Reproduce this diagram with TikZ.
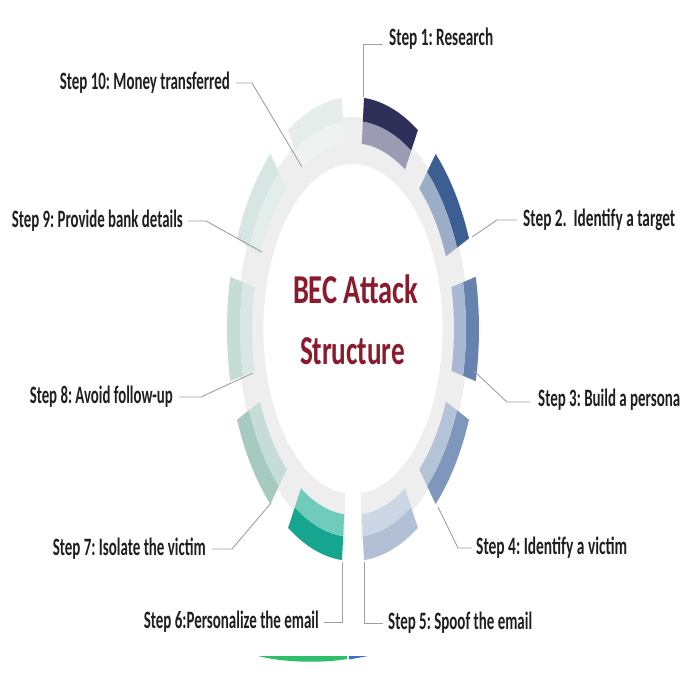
\documentclass[tikz,border=0pt]{standalone}
\usepackage{fontspec}
\setmainfont{Carlito}
\usetikzlibrary{calc}
\definecolor{seg1d}{HTML}{2F3059}\definecolor{seg1l}{HTML}{9B9BB3}
\definecolor{seg2d}{HTML}{3B5F92}\definecolor{seg2l}{HTML}{9CADC8}
\definecolor{seg3d}{HTML}{6682AF}\definecolor{seg3l}{HTML}{A9B9D3}
\definecolor{seg4d}{HTML}{8097BD}\definecolor{seg4l}{HTML}{B5C3D8}
\definecolor{seg5d}{HTML}{B2C0D5}\definecolor{seg5l}{HTML}{CDD6E4}
\definecolor{seg6d}{HTML}{16A58E}\definecolor{seg6l}{HTML}{70CBBD}
\definecolor{seg7d}{HTML}{A6CABF}\definecolor{seg7l}{HTML}{C5DDD6}
\definecolor{seg8d}{HTML}{C6DCD6}\definecolor{seg8l}{HTML}{D8E7E3}
\definecolor{seg9d}{HTML}{D6E6E2}\definecolor{seg9l}{HTML}{E3EDEA}
\definecolor{seg10d}{HTML}{E6EEEC}\definecolor{seg10l}{HTML}{EEF2F1}
\definecolor{track}{HTML}{EEEEEE}
\definecolor{titlered}{HTML}{8B1A2C}
\definecolor{labtext}{HTML}{1F1F1F}
\definecolor{conncol}{HTML}{A0A0A0}
\definecolor{artgreen}{HTML}{2FBF6A}
\definecolor{artblue}{HTML}{3A70C0}
\newcommand{\steplab}[2]{\resizebox{#1pt}{\height}{\fontsize{25}{28}\selectfont\bfseries #2}}
\tikzset{
  lab/.style={inner sep=0pt, text=labtext},
  conn/.style={draw=conncol, line width=0.9pt},
  titletext/.style={inner sep=0pt, text=titlered, anchor=base}
}
\begin{document}
\begin{tikzpicture}[x=1pt,y=-1pt]
\useasboundingbox (0,0) rectangle (696,697);
\fill[white] (0,0) rectangle (696,697);
% ring
\begin{scope}[shift={(353,329)}, xscale=0.543]
  \fill[track, even odd rule] (0,0) circle (212pt) (0,0) circle (165pt);
  \foreach \c/\d/\l in {72/seg1d/seg1l, 36/seg2d/seg2l, 0/seg3d/seg3l, -36/seg4d/seg4l, -72/seg5d/seg5l, -108/seg6d/seg6l, -144/seg7d/seg7l, 180/seg8d/seg8l, 144/seg9d/seg9l, 108/seg10d/seg10l}{
    \pgfmathsetmacro\sa{\c-13}
    \pgfmathsetmacro\sb{\c+13}
    \fill[\d] (\sa:232pt) arc[start angle=\sa, end angle=\sb, radius=232pt] -- (\sb:208pt) arc[start angle=\sb, end angle=\sa, radius=208pt] -- cycle;
    \fill[\l] (\sa:208pt) arc[start angle=\sa, end angle=\sb, radius=208pt] -- (\sb:186pt) arc[start angle=\sb, end angle=\sa, radius=186pt] -- cycle;
  }
\end{scope}
\fill[white] (345,488) rectangle (361,566);
% title
\node[titletext] (t1) at (355.5,303) {\resizebox{125pt}{\height}{\fontsize{41}{45}\selectfont\bfseries BEC Attack}};
\node[titletext] (t2) at (352.5,364) {\resizebox{105pt}{\height}{\fontsize{41}{45}\selectfont\bfseries Structure}};
% labels
\node[lab, anchor=west] (s1) at (389,39) {\steplab{104}{Step 1:\ Research}};
\node[lab, anchor=west] (s2) at (523,220) {\steplab{152}{Step 2.\ \ Identify a target}};
\node[lab, anchor=west] (s3) at (538,400) {\steplab{142}{Step 3:\ Build a persona}};
\node[lab, anchor=west] (s4) at (476,548) {\steplab{151}{Step 4:\ Identify a victim}};
\node[lab, anchor=west] (s5) at (388,623) {\steplab{144}{Step 5:\ Spoof the email}};
\node[lab, anchor=east] (s6) at (319,622) {\steplab{175}{Step 6:Personalize the email}};
\node[lab, anchor=east] (s7) at (206,549) {\steplab{153}{Step 7:\ Isolate the victim}};
\node[lab, anchor=east] (s8) at (173,397) {\steplab{143}{Step 8:\ Avoid follow-up}};
\node[lab, anchor=east] (s9) at (183,221) {\steplab{171}{Step 9:\ Provide bank details}};
\node[lab, anchor=east] (s10) at (230,83) {\steplab{170}{Step 10:\ Money transferred}};
% ring-side ends of connectors
\coordinate (e1) at (363,97);
\coordinate (e2) at (472,237);
\coordinate (e3) at (474,371);
\coordinate (e4) at (438,507);
\coordinate (e5) at (364,562);
\coordinate (e6) at (342,562);
\coordinate (e7) at (271,503);
\coordinate (e8) at (253,373);
\coordinate (e9) at (262,252);
\coordinate (e10) at (302,167);
% connectors
\draw[conn] ([xshift=-6pt,yshift=-5pt]s1.west) -| (e1);
\draw[conn] ([xshift=-6pt]s2.west) -- ++(-20,0) -- (e2);
\draw[conn] ([xshift=-8pt,yshift=-2pt]s3.west) -- ++(-23,0) -- (e3);
\draw[conn] ([xshift=-4pt]s4.west) -- ++(-14,0) -- (e4);
\draw[conn] ([xshift=-5pt]s5.west) -| (e5);
\draw[conn] ([xshift=5pt]s6.east) -| (e6);
\draw[conn] ([xshift=6pt]s7.east) -- ++(20,0) -- (e7);
\draw[conn] ([xshift=6pt]s8.east) -- ++(22,0) -- (e8);
\draw[conn] ([xshift=5pt]s9.east) -- ++(18,0) -- (e9);
\draw[conn] ([xshift=6pt]s10.east) -- ++(16,0) -- (e10);
% cropped artifact at the bottom
\fill[artgreen] (258,656) -- (347,656) -- (347,659) .. controls (325,663) and (285,663) .. (258,656) -- cycle;
\fill[artblue] (349,656) -- (368,656) -- (349,659.5) -- cycle;
\end{tikzpicture}
\end{document}
